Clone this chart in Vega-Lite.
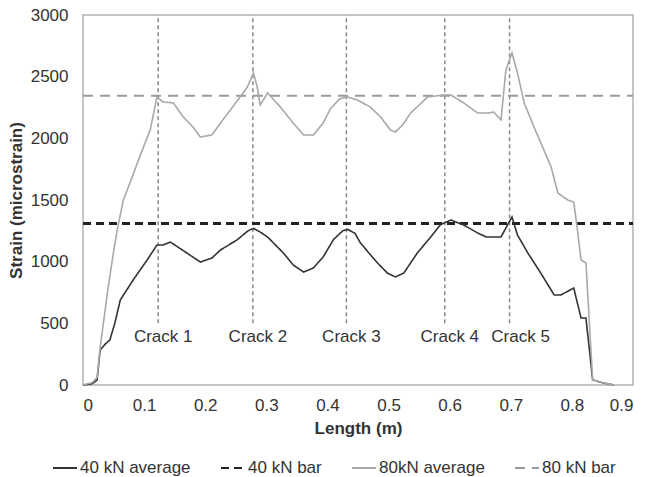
{
  "$schema": "https://vega.github.io/schema/vega-lite/v6.json",
  "width": 550,
  "height": 370,
  "autosize": {"type": "none"},
  "padding": {"left": 83, "top": 15, "right": 16, "bottom": 92},
  "background": "white",
  "config": {
    "font": "Liberation Sans",
    "view": {"stroke": "#b3b3b3", "strokeWidth": 1.5},
    "axis": {
      "grid": false,
      "ticks": false,
      "tickSize": 0,
      "domain": false,
      "labelFontSize": 17,
      "labelColor": "#333333",
      "titleFontSize": 17,
      "titleColor": "#333333",
      "titleFontWeight": "bold"
    },
    "legend": {
      "orient": "none",
      "legendX": -31,
      "legendY": 440,
      "direction": "horizontal",
      "title": null,
      "labelFontSize": 17,
      "labelColor": "#333333",
      "symbolType": "stroke",
      "symbolSize": 576,
      "symbolStrokeWidth": 2,
      "columnPadding": 26,
      "labelOffset": 2
    }
  },
  "datasets": {
    "curves": [
      {"series": "40 kN bar", "length": 0, "strain": 1310},
      {"series": "40 kN bar", "length": 0.9, "strain": 1310},
      {"series": "80 kN bar", "length": 0, "strain": 2345},
      {"series": "80 kN bar", "length": 0.9, "strain": 2345},
      {"series": "40 kN average", "length": 0, "strain": 0},
      {"series": "40 kN average", "length": 0.015, "strain": 10},
      {"series": "40 kN average", "length": 0.023, "strain": 40},
      {"series": "40 kN average", "length": 0.028, "strain": 284},
      {"series": "40 kN average", "length": 0.036, "strain": 330},
      {"series": "40 kN average", "length": 0.044, "strain": 365},
      {"series": "40 kN average", "length": 0.052, "strain": 500},
      {"series": "40 kN average", "length": 0.061, "strain": 689},
      {"series": "40 kN average", "length": 0.082, "strain": 851},
      {"series": "40 kN average", "length": 0.105, "strain": 1014},
      {"series": "40 kN average", "length": 0.121, "strain": 1135},
      {"series": "40 kN average", "length": 0.131, "strain": 1135},
      {"series": "40 kN average", "length": 0.143, "strain": 1159},
      {"series": "40 kN average", "length": 0.17, "strain": 1070},
      {"series": "40 kN average", "length": 0.192, "strain": 997},
      {"series": "40 kN average", "length": 0.211, "strain": 1030},
      {"series": "40 kN average", "length": 0.225, "strain": 1095},
      {"series": "40 kN average", "length": 0.252, "strain": 1176},
      {"series": "40 kN average", "length": 0.27, "strain": 1250},
      {"series": "40 kN average", "length": 0.279, "strain": 1270},
      {"series": "40 kN average", "length": 0.29, "strain": 1240},
      {"series": "40 kN average", "length": 0.302, "strain": 1200},
      {"series": "40 kN average", "length": 0.328, "strain": 1070},
      {"series": "40 kN average", "length": 0.344, "strain": 973},
      {"series": "40 kN average", "length": 0.361, "strain": 916},
      {"series": "40 kN average", "length": 0.377, "strain": 949},
      {"series": "40 kN average", "length": 0.393, "strain": 1038},
      {"series": "40 kN average", "length": 0.41, "strain": 1180},
      {"series": "40 kN average", "length": 0.425, "strain": 1250},
      {"series": "40 kN average", "length": 0.433, "strain": 1262},
      {"series": "40 kN average", "length": 0.445, "strain": 1230},
      {"series": "40 kN average", "length": 0.454, "strain": 1151},
      {"series": "40 kN average", "length": 0.482, "strain": 989},
      {"series": "40 kN average", "length": 0.498, "strain": 908},
      {"series": "40 kN average", "length": 0.511, "strain": 876},
      {"series": "40 kN average", "length": 0.525, "strain": 908},
      {"series": "40 kN average", "length": 0.547, "strain": 1070},
      {"series": "40 kN average", "length": 0.569, "strain": 1200},
      {"series": "40 kN average", "length": 0.585, "strain": 1300},
      {"series": "40 kN average", "length": 0.602, "strain": 1338},
      {"series": "40 kN average", "length": 0.623, "strain": 1297},
      {"series": "40 kN average", "length": 0.646, "strain": 1232},
      {"series": "40 kN average", "length": 0.66, "strain": 1200},
      {"series": "40 kN average", "length": 0.684, "strain": 1200},
      {"series": "40 kN average", "length": 0.695, "strain": 1300},
      {"series": "40 kN average", "length": 0.702, "strain": 1362},
      {"series": "40 kN average", "length": 0.711, "strain": 1216},
      {"series": "40 kN average", "length": 0.728, "strain": 1070},
      {"series": "40 kN average", "length": 0.749, "strain": 908},
      {"series": "40 kN average", "length": 0.771, "strain": 730},
      {"series": "40 kN average", "length": 0.782, "strain": 730},
      {"series": "40 kN average", "length": 0.803, "strain": 786},
      {"series": "40 kN average", "length": 0.815, "strain": 543},
      {"series": "40 kN average", "length": 0.823, "strain": 543},
      {"series": "40 kN average", "length": 0.834, "strain": 41},
      {"series": "40 kN average", "length": 0.852, "strain": 16},
      {"series": "40 kN average", "length": 0.869, "strain": 0},
      {"series": "80kN average", "length": 0, "strain": 0},
      {"series": "80kN average", "length": 0.015, "strain": 20},
      {"series": "80kN average", "length": 0.023, "strain": 60},
      {"series": "80kN average", "length": 0.028, "strain": 300},
      {"series": "80kN average", "length": 0.04, "strain": 750},
      {"series": "80kN average", "length": 0.05, "strain": 1080},
      {"series": "80kN average", "length": 0.056, "strain": 1257},
      {"series": "80kN average", "length": 0.066, "strain": 1500},
      {"series": "80kN average", "length": 0.08, "strain": 1680},
      {"series": "80kN average", "length": 0.095, "strain": 1880},
      {"series": "80kN average", "length": 0.11, "strain": 2068},
      {"series": "80kN average", "length": 0.121, "strain": 2335},
      {"series": "80kN average", "length": 0.131, "strain": 2295},
      {"series": "80kN average", "length": 0.148, "strain": 2287},
      {"series": "80kN average", "length": 0.164, "strain": 2173},
      {"series": "80kN average", "length": 0.18, "strain": 2092},
      {"series": "80kN average", "length": 0.192, "strain": 2011},
      {"series": "80kN average", "length": 0.211, "strain": 2027},
      {"series": "80kN average", "length": 0.225, "strain": 2124},
      {"series": "80kN average", "length": 0.257, "strain": 2335},
      {"series": "80kN average", "length": 0.269, "strain": 2417},
      {"series": "80kN average", "length": 0.279, "strain": 2530},
      {"series": "80kN average", "length": 0.285, "strain": 2417},
      {"series": "80kN average", "length": 0.29, "strain": 2270},
      {"series": "80kN average", "length": 0.302, "strain": 2368},
      {"series": "80kN average", "length": 0.323, "strain": 2254},
      {"series": "80kN average", "length": 0.344, "strain": 2124},
      {"series": "80kN average", "length": 0.361, "strain": 2027},
      {"series": "80kN average", "length": 0.377, "strain": 2027},
      {"series": "80kN average", "length": 0.393, "strain": 2124},
      {"series": "80kN average", "length": 0.405, "strain": 2240},
      {"series": "80kN average", "length": 0.42, "strain": 2320},
      {"series": "80kN average", "length": 0.433, "strain": 2335},
      {"series": "80kN average", "length": 0.449, "strain": 2311},
      {"series": "80kN average", "length": 0.47, "strain": 2254},
      {"series": "80kN average", "length": 0.487, "strain": 2173},
      {"series": "80kN average", "length": 0.503, "strain": 2068},
      {"series": "80kN average", "length": 0.511, "strain": 2051},
      {"series": "80kN average", "length": 0.523, "strain": 2108},
      {"series": "80kN average", "length": 0.536, "strain": 2205},
      {"series": "80kN average", "length": 0.564, "strain": 2335},
      {"series": "80kN average", "length": 0.59, "strain": 2351},
      {"series": "80kN average", "length": 0.602, "strain": 2351},
      {"series": "80kN average", "length": 0.623, "strain": 2287},
      {"series": "80kN average", "length": 0.646, "strain": 2205},
      {"series": "80kN average", "length": 0.662, "strain": 2205},
      {"series": "80kN average", "length": 0.672, "strain": 2213},
      {"series": "80kN average", "length": 0.684, "strain": 2149},
      {"series": "80kN average", "length": 0.692, "strain": 2554},
      {"series": "80kN average", "length": 0.702, "strain": 2692},
      {"series": "80kN average", "length": 0.711, "strain": 2530},
      {"series": "80kN average", "length": 0.722, "strain": 2287},
      {"series": "80kN average", "length": 0.738, "strain": 2092},
      {"series": "80kN average", "length": 0.766, "strain": 1768},
      {"series": "80kN average", "length": 0.777, "strain": 1557},
      {"series": "80kN average", "length": 0.793, "strain": 1500},
      {"series": "80kN average", "length": 0.803, "strain": 1484},
      {"series": "80kN average", "length": 0.808, "strain": 1300},
      {"series": "80kN average", "length": 0.815, "strain": 1014},
      {"series": "80kN average", "length": 0.823, "strain": 989},
      {"series": "80kN average", "length": 0.834, "strain": 41},
      {"series": "80kN average", "length": 0.852, "strain": 16},
      {"series": "80kN average", "length": 0.869, "strain": 0}
    ],
    "cracks": [
      {"crack": "Crack 1", "length": 0.123},
      {"crack": "Crack 2", "length": 0.278},
      {"crack": "Crack 3", "length": 0.431},
      {"crack": "Crack 4", "length": 0.592},
      {"crack": "Crack 5", "length": 0.698}
    ]
  },
  "encoding": {
    "x": {
      "field": "length",
      "type": "quantitative",
      "title": "Length (m)",
      "scale": {"domain": [0, 0.9], "nice": false},
      "axis": {"values": [0, 0.1, 0.2, 0.3, 0.4, 0.5, 0.6, 0.7, 0.8, 0.9], "format": "~g", "labelPadding": 12, "titlePadding": 7}
    }
  },
  "layer": [
    {
      "data": {"name": "cracks"},
      "mark": {"type": "rule", "stroke": "#8a8a8a", "strokeWidth": 1.5, "strokeDash": [4, 3]},
      "encoding": {
        "y": {"datum": 500, "type": "quantitative"},
        "y2": {"datum": 3000}
      }
    },
    {
      "data": {"name": "cracks"},
      "transform": [{"filter": "datum.crack != 'Crack 5'"}],
      "mark": {"type": "text", "fontSize": 17, "color": "#333333", "dx": 5, "baseline": "middle"},
      "encoding": {
        "y": {"datum": 390, "type": "quantitative"},
        "text": {"field": "crack"}
      }
    },
    {
      "data": {"name": "cracks"},
      "transform": [{"filter": "datum.crack == 'Crack 5'"}],
      "mark": {"type": "text", "fontSize": 17, "color": "#333333", "dx": 11, "baseline": "middle"},
      "encoding": {
        "y": {"datum": 390, "type": "quantitative"},
        "text": {"field": "crack"}
      }
    },
    {
      "data": {"name": "curves"},
      "transform": [{"filter": "datum.series == '40 kN bar'"}],
      "mark": {"type": "line", "strokeWidth": 3},
      "encoding": {
        "y": {"field": "strain", "type": "quantitative"},
        "color": {"field": "series", "type": "nominal"},
        "strokeDash": {"field": "series", "type": "nominal"}
      }
    },
    {
      "data": {"name": "curves"},
      "transform": [{"filter": "datum.series == '80 kN bar'"}],
      "mark": {"type": "line", "strokeWidth": 2},
      "encoding": {
        "y": {"field": "strain", "type": "quantitative"},
        "color": {"field": "series", "type": "nominal"},
        "strokeDash": {"field": "series", "type": "nominal"}
      }
    },
    {
      "data": {"name": "curves"},
      "transform": [{"filter": "datum.series == '40 kN average' || datum.series == '80kN average'"}],
      "mark": {"type": "line", "strokeWidth": 1.6},
      "encoding": {
        "y": {
          "field": "strain",
          "type": "quantitative",
          "title": "Strain (microstrain)",
          "scale": {"domain": [0, 3000], "nice": false},
          "axis": {"values": [0, 500, 1000, 1500, 2000, 2500, 3000], "format": "d", "labelPadding": 15, "titlePadding": 5}
        },
        "color": {
          "field": "series",
          "type": "nominal",
          "scale": {
            "domain": ["40 kN average", "40 kN bar", "80kN average", "80 kN bar"],
            "range": ["#333333", "#222222", "#a8a8a8", "#9a9a9a"]
          }
        },
        "strokeDash": {
          "field": "series",
          "type": "nominal",
          "scale": {
            "domain": ["40 kN average", "40 kN bar", "80kN average", "80 kN bar"],
            "range": [[1, 0], [8, 5], [1, 0], [10, 7]]
          }
        }
      }
    }
  ]
}
